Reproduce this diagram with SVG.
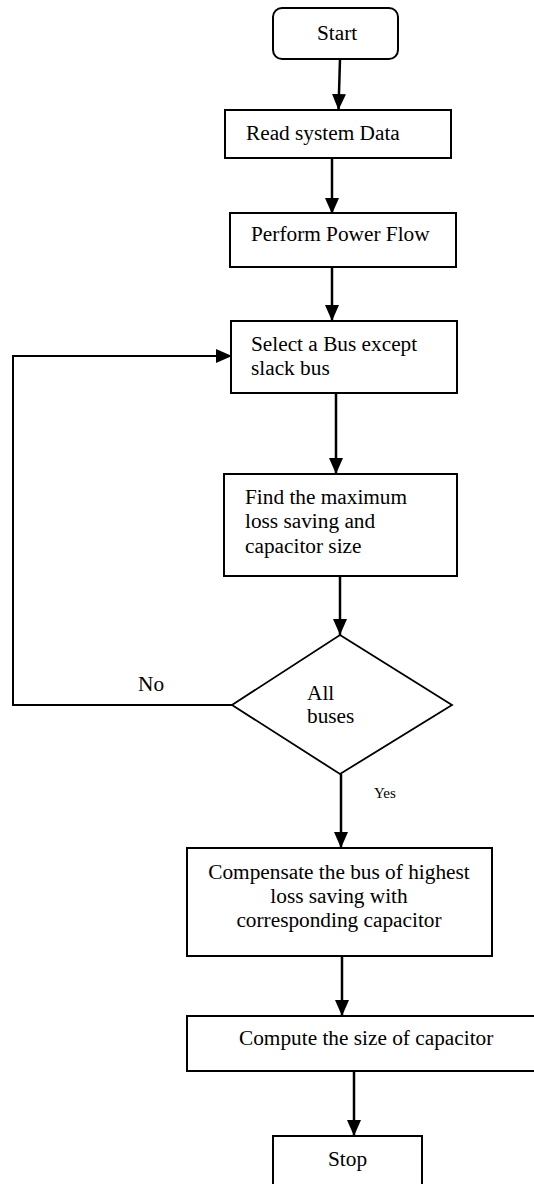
<svg xmlns="http://www.w3.org/2000/svg" width="534" height="1184" viewBox="0 0 534 1184">
<style>
.box{fill:#fff;stroke:#000;stroke-width:2}
.dia{fill:#fff;stroke:#000;stroke-width:1.8}
.t{font-family:"Liberation Serif","Times New Roman",serif;font-size:21.3px;fill:#000}
.s{font-family:"Liberation Serif","Times New Roman",serif;font-size:15px;fill:#000}
.c{fill:none;stroke:#000;stroke-width:2.5}
.p{fill:none;stroke:#000;stroke-width:2}
</style>
<defs>
<marker id="ah" markerUnits="userSpaceOnUse" markerWidth="16" markerHeight="16" viewBox="0 0 16 16" refX="16" refY="8" orient="auto">
<path d="M0,1 L16,8 L0,15 Z" fill="#000"/>
</marker>
</defs>
<rect width="534" height="1184" fill="#fff"/>
<g id="connectors">
<line class="c" x1="340" y1="59" x2="338.5" y2="110" marker-end="url(#ah)"/>
<line class="c" x1="332" y1="158" x2="332" y2="214" marker-end="url(#ah)"/>
<line class="c" x1="332" y1="267" x2="332" y2="321" marker-end="url(#ah)"/>
<line class="c" x1="336" y1="393" x2="336" y2="474" marker-end="url(#ah)"/>
<line class="c" x1="340" y1="576" x2="340" y2="635" marker-end="url(#ah)"/>
<polyline class="p" points="232,705 13,705 13,356"/>
<line class="p" x1="12" y1="356" x2="232" y2="356" marker-end="url(#ah)"/>
<line class="c" x1="341" y1="774" x2="341" y2="848" marker-end="url(#ah)"/>
<line class="c" x1="342" y1="956" x2="342" y2="1016" marker-end="url(#ah)"/>
<line class="c" x1="354" y1="1066" x2="354" y2="1136" marker-end="url(#ah)"/>
<text class="t" x="138" y="691">No</text>
<text class="s" x="374" y="798">Yes</text>
</g>
<g id="start">
<rect class="box" x="273" y="8" width="125" height="51" rx="9"/>
<text class="t" x="317" y="40">Start</text>
</g>
<g id="read">
<rect class="box" x="225" y="110" width="226" height="48"/>
<text class="t" x="246" y="140">Read system Data</text>
</g>
<g id="perform">
<rect class="box" x="230" y="213" width="226" height="54"/>
<text class="t" x="251" y="241">Perform Power Flow</text>
</g>
<g id="select">
<rect class="box" x="231" y="321" width="226" height="72"/>
<text class="t" x="251" y="351">Select a Bus except</text>
<text class="t" x="251" y="375">slack bus</text>
</g>
<g id="find">
<rect class="box" x="224" y="474" width="233" height="102"/>
<text class="t" x="245" y="504">Find the maximum</text>
<text class="t" x="245" y="528">loss saving and</text>
<text class="t" x="245" y="553">capacitor size</text>
</g>
<g id="decision">
<polygon class="dia" points="340,635 452,705 340,774 232,705"/>
<text class="t" x="307" y="700">All</text>
<text class="t" x="307" y="723">buses</text>
</g>
<g id="compensate">
<rect class="box" x="187" y="848" width="305" height="108"/>
<text class="t" x="339" y="879" text-anchor="middle">Compensate the bus of highest</text>
<text class="t" x="339" y="903" text-anchor="middle">loss saving with</text>
<text class="t" x="339" y="927" text-anchor="middle">corresponding capacitor</text>
</g>
<g id="compute">
<rect class="box" x="187" y="1016" width="360" height="55"/>
<text class="t" x="239" y="1045">Compute the size of capacitor</text>
</g>
<g id="stop">
<rect class="box" x="273" y="1136" width="149" height="60"/>
<text class="t" x="328" y="1166">Stop</text>
</g>
</svg>
